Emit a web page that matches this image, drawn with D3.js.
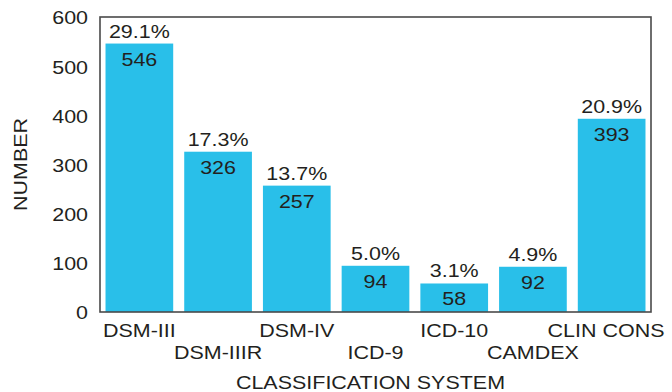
<!DOCTYPE html>
<html><head><meta charset="utf-8">
<script src="https://cdn.jsdelivr.net/npm/d3@7/dist/d3.min.js"></script>
<style>body{margin:0;background:#fff}svg{display:block}text{font-family:"Liberation Sans",Arial,Helvetica,sans-serif;fill:#231f20}</style>
</head><body>
<svg id="c" width="672" height="392"></svg>
<script>
const categories = ["DSM-III","DSM-IIIR","DSM-IV","ICD-9","ICD-10","CAMDEX","CLIN CONS"];
const values = [546,326,257,94,58,92,393];
const percents = ["29.1%","17.3%","13.7%","5.0%","3.1%","4.9%","20.9%"];
const yTicks = [0,100,200,300,400,500,600];

const svg = d3.select("#c");
const L = 100, R = 651, T = 17, B = 312;
const x = d3.scaleBand().domain(categories).range([L, R]).paddingInner(0.14).paddingOuter(0.07);
const y = d3.scaleLinear().domain([0, 600]).range([B, T]);
const fs = 19;
const stretch = 1.13;

function txt(g, s, px, py, anchor, size) {
  return g.append("text").attr("transform", `translate(${px},${py}) scale(${stretch},1)`)
    .attr("text-anchor", anchor || "middle").attr("font-size", size || fs).text(s);
}

// bars
svg.append("g").selectAll("rect").data(values).join("rect")
  .attr("x", (d,i) => x(categories[i])).attr("width", x.bandwidth())
  .attr("y", d => y(d)).attr("height", d => B - y(d)).attr("fill", "#29bfe9");

// frame
svg.append("rect").attr("x", L).attr("y", T).attr("width", R - L).attr("height", B - T)
  .attr("fill", "none").attr("stroke", "#4a4a4a").attr("stroke-width", 1.6);

// y axis via d3 axis
const ya = svg.append("g").attr("transform", `translate(${L},0)`)
  .call(d3.axisLeft(y).tickValues(yTicks).tickSize(0).tickPadding(12));
ya.select(".domain").remove();
ya.selectAll("text").attr("font-size", fs).attr("font-family", "Liberation Sans, Arial, sans-serif")
  .attr("fill", "#231f20").attr("dy", "0.36em")
  .attr("transform", function(){ const xx = +d3.select(this).attr("x"); return `translate(${xx*(1-stretch)},0) scale(${stretch},1)`; });

// labels on bars
const g = svg.append("g");
values.forEach((v, i) => {
  const cx = x(categories[i]) + x.bandwidth() / 2;
  txt(g, percents[i], cx, y(v) - 6);
  txt(g, String(v), cx, y(v) + 22);
});

// category labels (staggered)
categories.forEach((c, i) => {
  let cx = x(c) + x.bandwidth() / 2;
  const est = c.length * fs * 0.6 * stretch;
  if (cx + est / 2 > 664) cx = 664 - est / 2;
  txt(g, c, cx, i % 2 === 0 ? 337 : 359);
});

// axis titles
txt(g, "CLASSIFICATION SYSTEM", (L + R) / 2 - 5, 389);
svg.append("text").attr("transform", `translate(27,${(T + B) / 2}) rotate(-90) scale(${stretch},1)`)
  .attr("text-anchor", "middle").attr("font-size", fs).text("NUMBER");
</script>
</body></html>
